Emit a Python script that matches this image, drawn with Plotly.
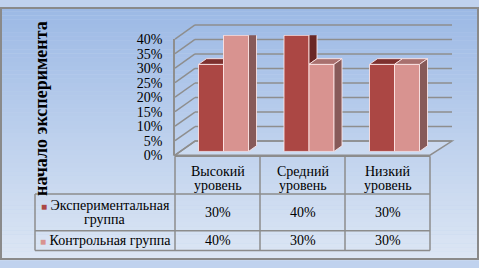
import plotly.graph_objects as go

# ---------------- data ----------------
categories = ["Высокий уровень", "Средний уровень", "Низкий уровень"]
series_names = ["Экспериментальная группа", "Контрольная группа"]
exp_values = [30, 40, 30]
ctrl_values = [40, 30, 30]
tick_values = [0, 5, 10, 15, 20, 25, 30, 35, 40]
y_title = "начало эксперимента"

# ---------------- styling ----------------
W, H = 479, 268
FONT = "Liberation Serif"
DARK = dict(front="#AB4744", top="#7D302E", side="#6A2725")
PINK = dict(front="#D89390", top="#A8706E", side="#875A59")
GRID = "#8E8E8E"
EDGE = "rgba(255,232,232,0.85)"


def px(x):
    return x / W


def py(y):
    return 1 - y / H


def lerp(a, b, t):
    return a + (b - a) * t


shapes = []

# background gradient (bands)
top_c = (156, 185, 229)
bot_c = (220, 230, 244)
N = 60
for i in range(N):
    t = i / (N - 1)
    c = tuple(int(round(lerp(top_c[k], bot_c[k], t))) for k in range(3))
    shapes.append(dict(type="rect", xref="paper", yref="paper",
                       x0=0, x1=1, y0=py(H * i / N), y1=py(H * (i + 1) / N) - 0.0005,
                       fillcolor="rgb(%d,%d,%d)" % c, line=dict(width=0), layer="below"))

# 3D walls geometry (pixels)
FX, BX, BXR, FXR = 175, 195, 452, 430
F0, B0, SPAN = 157, 142, 123.0


def yf(v):
    return F0 - v * SPAN / 40


def yb(v):
    return B0 - v * SPAN / 40


# floor
shapes.append(dict(type="path", xref="paper", yref="paper",
                   path="M %f,%f L %f,%f L %f,%f L %f,%f Z" % (
                       px(FX), py(F0), px(FXR), py(F0), px(BXR), py(B0), px(BX), py(B0)),
                   fillcolor="rgba(255,255,255,0.18)", line=dict(color=GRID, width=1.5), layer="below"))

for v in tick_values:
    shapes.append(dict(type="line", xref="paper", yref="paper",
                       x0=px(FX), y0=py(yf(v)), x1=px(BX), y1=py(yb(v)),
                       line=dict(color=GRID, width=1.5), layer="below"))
    shapes.append(dict(type="line", xref="paper", yref="paper",
                       x0=px(BX), y0=py(yb(v)), x1=px(BXR), y1=py(yb(v)),
                       line=dict(color=GRID, width=1.5), layer="below"))

# table lines
TL, TC0, TC = 35, 175, [175, 260, 345, 430]
R0, R1, R2, R3 = 158, 198, 237, 258
TCOL = "#8C8C8C"


def hline(y, x0, x1):
    shapes.append(dict(type="line", xref="paper", yref="paper", x0=px(x0), x1=px(x1),
                       y0=py(y), y1=py(y), line=dict(color=TCOL, width=1.5)))


def vline(x, y0, y1):
    shapes.append(dict(type="line", xref="paper", yref="paper", x0=px(x), x1=px(x),
                       y0=py(y0), y1=py(y1), line=dict(color=TCOL, width=1.5)))


hline(R0, TC[0], TC[-1])
for r in (R1, R2, R3):
    hline(r, TL, TC[-1])
vline(TL, R1, R3)
for x in TC:
    vline(x, R0, R3)

# outer border
shapes.append(dict(type="rect", xref="paper", yref="paper", x0=px(1), x1=px(W - 1),
                   y0=py(H - 1), y1=py(1), line=dict(color="#8A8A8A", width=2)))

# ---------------- bars ----------------
CAT_W = 85.5
w = 25 / CAT_W
dx = 8 / CAT_W
dy = 6 * 40 / SPAN
xs = list(range(len(categories)))


def poly(pts):
    return "M " + " L ".join("%f,%f" % p for p in pts) + " Z"


face_shapes = []
for i in xs:
    hd, hp = exp_values[i], ctrl_values[i]
    x0, x1, x2 = i - w, i, i + w
    if hp > hd:
        pts = [(x0, hd), (x1, hd), (x1, hd + dy), (x0 + dx, hd + dy)]
    else:
        pts = [(x0, hd), (x1, hd), (x1 + dx, hd + dy), (x0 + dx, hd + dy)]
    face_shapes.append(dict(type="path", xref="x", yref="y", path=poly(pts),
                            fillcolor=DARK["top"], line=dict(color=EDGE, width=1)))
    if hd > hp:
        pts = [(x1, hp), (x1, hd), (x1 + dx, hd + dy), (x1 + dx, hp + dy)]
        face_shapes.append(dict(type="path", xref="x", yref="y", path=poly(pts),
                                fillcolor=DARK["side"], line=dict(color=EDGE, width=1)))
    pts = [(x1, hp), (x2, hp), (x2 + dx, hp + dy), (x1 + dx, hp + dy)]
    face_shapes.append(dict(type="path", xref="x", yref="y", path=poly(pts),
                            fillcolor=PINK["top"], line=dict(color=EDGE, width=1)))
    pts = [(x2, 0), (x2, hp), (x2 + dx, hp + dy), (x2 + dx, dy)]
    face_shapes.append(dict(type="path", xref="x", yref="y", path=poly(pts),
                            fillcolor=PINK["side"], line=dict(color=EDGE, width=1)))

shapes += face_shapes

fig = go.Figure()
fig.add_trace(go.Bar(x=xs, y=exp_values, width=w, offset=-w, name=series_names[0],
                     marker=dict(color=DARK["front"], line=dict(color=EDGE, width=1)),
                     hoverinfo="skip"))
fig.add_trace(go.Bar(x=xs, y=ctrl_values, width=w, offset=0, name=series_names[1],
                     marker=dict(color=PINK["front"], line=dict(color=EDGE, width=1)),
                     hoverinfo="skip"))
fig.add_trace(go.Scatter(x=[0], y=[0], xaxis="x2", yaxis="y2", mode="markers",
                         marker=dict(opacity=0), hoverinfo="skip", showlegend=False))

# ---------------- annotations (table text, title) ----------------
ann = []


def text(t, x, y, size=14, angle=0):
    ann.append(dict(text=t, x=px(x), y=py(y), xref="paper", yref="paper",
                    xanchor="center", yanchor="middle", textangle=angle, showarrow=False,
                    font=dict(family=FONT, size=size, color="black")))


text("<b>%s</b>" % y_title, 41, 108, size=18, angle=-90)

col_centers = [(TC[k] + TC[k + 1]) / 2 for k in range(3)]
for k, cat in enumerate(categories):
    for j, part in enumerate(cat.split(" ")):
        text(part, col_centers[k], 174.5 + 15 * j)

row_centers = [(R1 + R2) / 2, (R2 + R3) / 2]
colors = [DARK["front"], PINK["front"]]
for s, (name, vals) in enumerate(zip(series_names, [exp_values, ctrl_values])):
    marker = '<span style="color:%s;font-size:10px">■</span> ' % colors[s]
    if s == 0:
        words = name.split(" ")
        lines = [marker + words[0], " ".join(words[1:])]
        ys = [row_centers[0] - 7, row_centers[0] + 8]
    else:
        lines = [marker + name]
        ys = [row_centers[1]]
    for line, yy in zip(lines, ys):
        text(line, (TL + TC0) / 2, yy)
    for k, v in enumerate(vals):
        text("%d%%" % v, col_centers[k], row_centers[s])

fig.update_layout(
    width=W, height=H, autosize=False,
    margin=dict(l=0, r=0, t=0, b=0, pad=0),
    paper_bgcolor="#C0D2EE", plot_bgcolor="rgba(0,0,0,0)",
    barmode="overlay", showlegend=False,
    xaxis=dict(domain=[px(223.5 - CAT_W / 2), px(223.5 + CAT_W * 2.5)], range=[-0.5, 2.5],
               visible=False, fixedrange=True),
    yaxis=dict(domain=[py(153), py(30)], range=[0, 40], visible=False, fixedrange=True),
    xaxis2=dict(domain=[px(FX), px(FXR)], range=[0, 1], visible=False, anchor="y2"),
    yaxis2=dict(domain=[py(F0), py(F0 - SPAN)], range=[0, 40], anchor="x2",
                tickvals=tick_values, ticktext=["%d%%" % v for v in tick_values],
                showgrid=False, zeroline=False, showline=True, linecolor=GRID, linewidth=1.5,
                ticks="outside", ticklen=8, tickcolor="rgba(0,0,0,0)",
                tickfont=dict(family=FONT, size=14, color="black")),
    shapes=shapes, annotations=ann,
)

fig.write_html("out.html", config={"displayModeBar": False},
               post_script="document.body.style.margin='0px';")
